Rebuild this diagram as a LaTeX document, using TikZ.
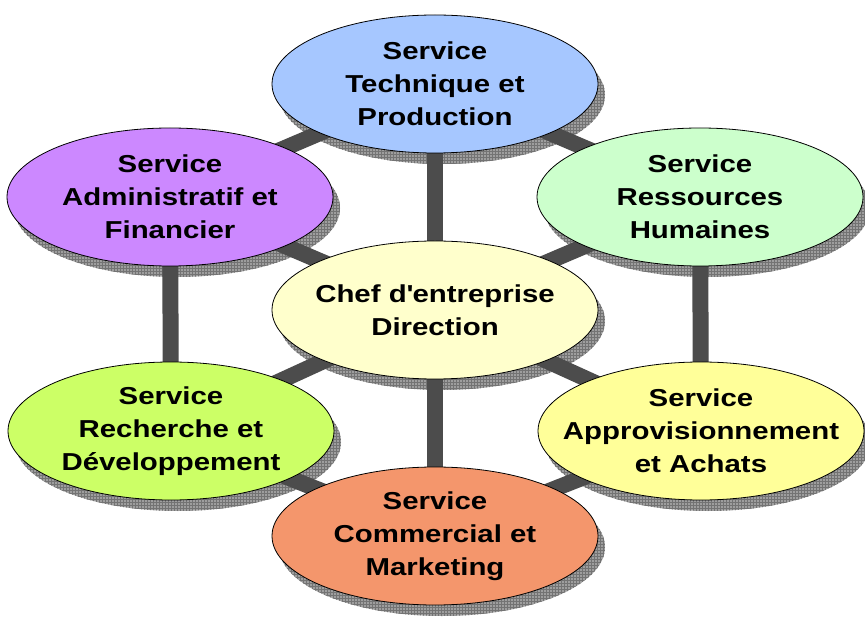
\documentclass[tikz,border=0pt]{standalone}
\usepackage{fontspec}
\setmainfont[FakeStretch=1.2]{Liberation Sans}
\usepackage{tikz}
\usetikzlibrary{shapes.geometric, backgrounds, patterns}
\definecolor{colorTechnique}{RGB}{166,199,255}
\definecolor{colorAdmin}{RGB}{204,136,255}
\definecolor{colorRH}{RGB}{204,255,204}
\definecolor{colorChef}{RGB}{255,255,204}
\definecolor{colorRD}{RGB}{204,255,102}
\definecolor{colorAppro}{RGB}{255,255,153}
\definecolor{colorCommercial}{RGB}{244,150,108}
\colorlet{colorLink}{black!70}
\colorlet{colorShadow}{black!38}

\begin{document}
\begin{tikzpicture}[x=1pt, y=1pt, node distance=226pt,
  every node/.style={align=center, font=\fontsize{24.5}{33}\selectfont\bfseries},
  service/.style={ellipse, draw=black, line width=0.8pt, minimum width=326pt, minimum height=138pt, inner xsep=-60pt, inner ysep=-20pt},
  link/.style={line width=16pt, draw=colorLink},
  shade/.style={fill=colorShadow, postaction={pattern=grid, pattern color=black!55}}]
\useasboundingbox (0,0) rectangle (865,619);
\node[service, fill=colorChef] (chef) at (435,309) {Chef d\textquotesingle entreprise\\Direction};
\node[service, fill=colorTechnique, above of=chef] (tech) {Service\\Technique et\\Production};
\node[service, fill=colorCommercial, below of=chef] (comm) {Service\\Commercial et\\Marketing};
\node[service, fill=colorAdmin, node distance=265pt, left of=chef, yshift=113pt] (admin) {Service\\Administratif et\\Financier};
\node[service, fill=colorRH, node distance=265pt, right of=chef, yshift=113pt] (rh) {Service\\Ressources\\Humaines};
\node[service, fill=colorRD, node distance=264pt, left of=chef, yshift=-121pt] (rd) {Service\\Recherche et\\D\'eveloppement};
\node[service, fill=colorAppro, node distance=266pt, right of=chef, yshift=-121pt] (appro) {Service\\Approvisionnement\\et Achats};
\begin{scope}[on background layer]
\foreach \n in {tech,admin,rh,chef,rd,appro,comm}
  \path[shade] ([shift={(7pt,-11pt)}]\n.center) ellipse (163 and 69);
\end{scope}
\begin{scope}[on background layer]
\draw[link] (tech.center) -- (chef.center);
\draw[link] (chef.center) -- (comm.center);
\draw[link] (tech.center) -- (admin.center);
\draw[link] (tech.center) -- (rh.center);
\draw[link] (chef.center) -- (admin.center);
\draw[link] (chef.center) -- (rh.center);
\draw[link] (chef.center) -- (rd.center);
\draw[link] (chef.center) -- (appro.center);
\draw[link] (comm.center) -- (rd.center);
\draw[link] (comm.center) -- (appro.center);
\draw[link] (admin.center) -- (rd.center);
\draw[link] (rh.center) -- (appro.center);
\end{scope}
\end{tikzpicture}
\end{document}
